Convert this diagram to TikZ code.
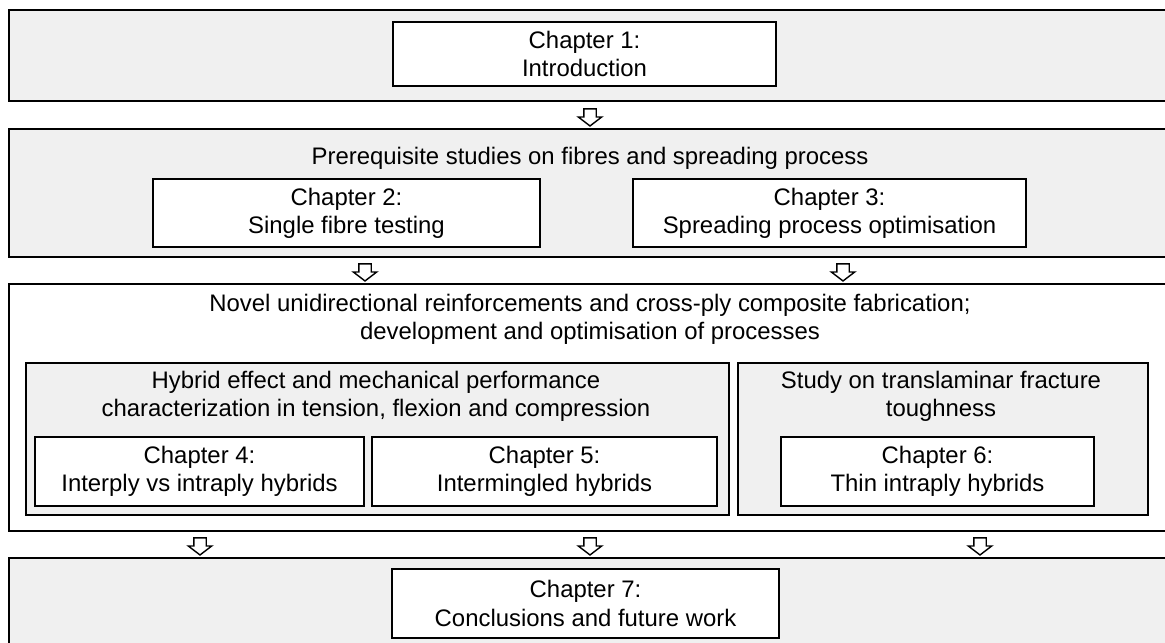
\documentclass[tikz,border=0pt]{standalone}
\usepackage{fontspec}
\setmainfont{Liberation Sans}
\usetikzlibrary{positioning,shapes.arrows}

\definecolor{panelgray}{HTML}{F0F0F0}

\tikzset{
  panel/.style={draw=black, line width=1pt, fill=panelgray, anchor=north west, inner sep=0pt},
  chapbox/.style={draw=black, line width=1pt, fill=white, align=center, inner sep=0pt},
  heading/.style={align=center, inner sep=0pt},
  downarrow/.style={single arrow, draw=black, line width=0.8pt, fill=white, rotate=-90,
    minimum height=0.34cm, minimum width=0.44cm, inner sep=0.11cm,
    single arrow head extend=0.11cm, single arrow tip angle=105}
}

\begin{document}
\begin{tikzpicture}[font=\fontsize{13.6}{16}\selectfont]
\useasboundingbox (0,0) rectangle (23.3,-12.84);

% outer panels
\node[panel, minimum width=24cm, minimum height=1.82cm] (intro) at (0.16,-0.18) {};
\node[panel, minimum width=24cm, minimum height=2.56cm] (prereq) at (0.16,-2.56) {};
\node[panel, fill=white, minimum width=24cm, minimum height=4.94cm] (novel) at (0.16,-5.66) {};
\node[panel, minimum width=24cm, minimum height=3cm] (concl) at (0.16,-11.14) {};

% inner panels
\node[panel, minimum width=14.06cm, minimum height=3.04cm] (hybrid) at (0.50,-7.24) {};
\node[panel, minimum width=8.20cm, minimum height=3.04cm] (fracture) at (14.74,-7.24) {};

% headings
\node[heading] (prereqtitle) at (11.8,-3.16) {Prerequisite studies on fibres and spreading process};
\node[heading] (noveltitle) at (11.8,-6.39) {Novel unidirectional reinforcements and cross-ply composite fabrication;\\development and optimisation of processes};
\node[heading] (hybridtitle) at (7.52,-7.92) {Hybrid effect and mechanical performance\\characterization in tension, flexion and compression};
\node[heading] (fracturetitle) at (18.82,-7.92) {Study on translaminar fracture\\toughness};

% chapters
\node[chapbox, minimum width=7.66cm, minimum height=1.28cm] (ch1) at (11.69,-1.08) {Chapter 1:\\Introduction};
\node[chapbox, minimum width=7.74cm, minimum height=1.36cm] (ch2) at (6.93,-4.26) {Chapter 2:\\Single fibre testing};
\node[chapbox, minimum width=7.86cm, minimum height=1.36cm] (ch3) at (16.59,-4.26) {Chapter 3:\\Spreading process optimisation};
\node[chapbox, minimum width=6.58cm, minimum height=1.38cm] (ch4) at (3.99,-9.43) {Chapter 4:\\Interply vs intraply hybrids};
\node[chapbox, minimum width=6.90cm, minimum height=1.38cm] (ch5) at (10.89,-9.43) {Chapter 5:\\Intermingled hybrids};
\node[chapbox, minimum width=6.26cm, minimum height=1.38cm] (ch6) at (18.75,-9.43) {Chapter 6:\\Thin intraply hybrids};
\node[chapbox, minimum width=7.74cm, minimum height=1.38cm] (ch7) at (11.71,-12.07) {Chapter 7:\\Conclusions and future work};

% block arrows between panels
\node[downarrow] (a1) at (11.8,-2.30) {};
\node[downarrow] (a2) at (7.3,-5.40) {};
\node[downarrow] (a3) at (16.86,-5.40) {};
\node[downarrow] (a4) at (4.0,-10.88) {};
\node[downarrow] (a5) at (11.8,-10.88) {};
\node[downarrow] (a6) at (19.6,-10.88) {};
\end{tikzpicture}
\end{document}
